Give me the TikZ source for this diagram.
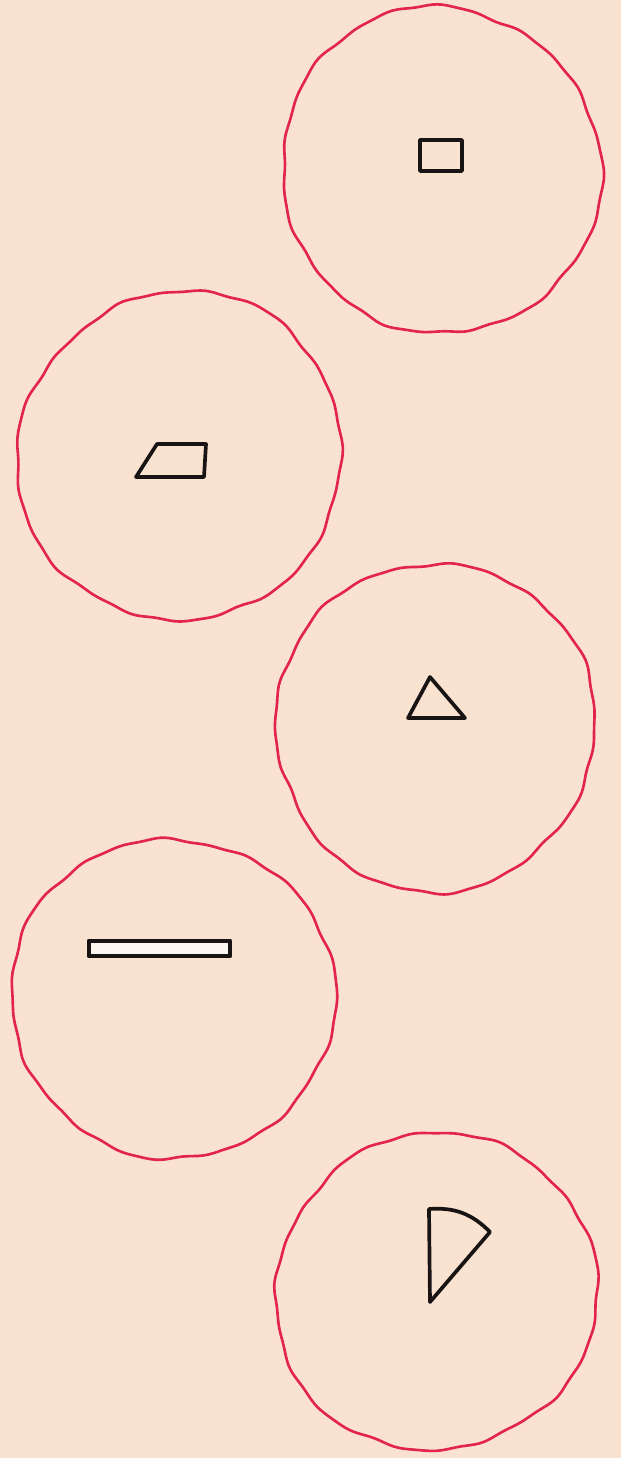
\documentclass[tikz,border=0pt]{standalone}
\usepackage{xcolor}
\usepackage{tikz}
\usetikzlibrary{calc}
\definecolor{paper}{RGB}{250,226,208}
\definecolor{inkred}{RGB}{226,36,78}
\definecolor{inkdark}{RGB}{25,20,20}
\definecolor{barfill}{RGB}{252,246,240}
\tikzset{
  blob/.style={draw=inkred, line width=0.75pt, line join=round},
  figure/.style={draw=inkdark, line width=1.05pt, line join=round},
}

\begin{document}
\begin{tikzpicture}[x=0.1mm, y=-0.1mm]
  % Paper and frame
  \fill[paper] (0,0) rectangle (621,1458);
  \useasboundingbox (0,0) rectangle (621,1458);

  % Centres of the five outlines
  \coordinate (c1) at (441,170);
  \coordinate (c2) at (180,456);
  \coordinate (c3) at (435,727);
  \coordinate (c4) at (173,998);
  \coordinate (c5) at (436,1292);

  % Wavy red outlines
  \foreach \c/\rx/\ry/\ph in {c1/158/165/40, c2/161/166/150, c3/162/162/260, c4/160/162/75, c5/162/158/200}
    \draw[blob, shift={(\c)}] plot[smooth cycle, domain=0:357, samples=120, variable=\t]
      ({\rx*(1+0.015*sin(2*\t+\ph)+0.01*sin(3*\t+2*\ph)+0.007*sin(7*\t+\ph)+0.005*sin(13*\t+3*\ph)+0.004*sin(23*\t+\ph))*cos(\t)},
       {\ry*(1+0.015*sin(2*\t+\ph)+0.01*sin(3*\t+2*\ph)+0.007*sin(7*\t+\ph)+0.005*sin(13*\t+3*\ph)+0.004*sin(23*\t+\ph))*sin(\t)});

  % Figures inside
  \draw[figure] (420,140) rectangle (462,171);
  \draw[figure] (157,444) -- (206,444) -- (204,477) -- (136,477) -- cycle;
  \draw[figure] (430,677) -- (465,718) -- (408,718) -- cycle;
  \draw[figure, line width=1.4pt, fill=barfill] (89,941) rectangle (230,956);
  \draw[figure] (429,1209) to[bend left=25] (490,1232) -- (430,1302) -- cycle;
\end{tikzpicture}
\end{document}
